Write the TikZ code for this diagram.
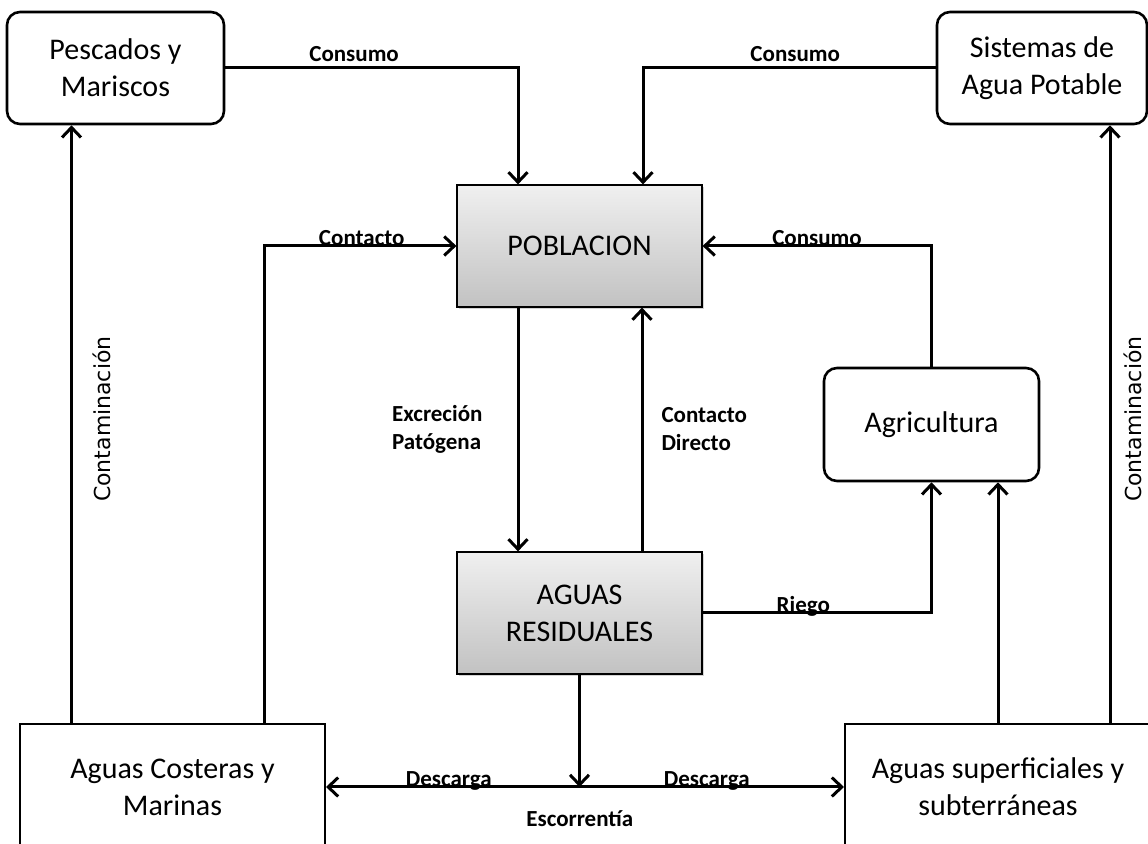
\documentclass[tikz,border=0pt]{standalone}
\usepackage{fontspec}
\setmainfont{Carlito}
\newfontfamily\verdfont{DejaVu Sans}
\usepackage{tikz}
\usetikzlibrary{arrows.meta,shadows}

\begin{document}
\begin{tikzpicture}[x=0.5pt,y=-0.5pt,
    >={Straight Barb[length=5pt,width=9.5pt]},
    box/.style={draw,line width=1.3pt,rounded corners=6.5pt,align=center,inner sep=0pt,
      font=\fontsize{15}{18.5}\selectfont},
    main/.style={draw,line width=0.6pt,top color=gray!12,bottom color=gray!48,inner sep=0pt,
      drop shadow={opacity=0.35,shadow xshift=1.2pt,shadow yshift=-1.2pt},
      align=center,minimum width=122.5pt,minimum height=61pt,font=\fontsize{15}{18.5}\selectfont},
    water/.style={draw,line width=1pt,align=center,inner sep=0pt,minimum width=153pt,
      minimum height=63pt,font=\fontsize{15}{18.5}\selectfont},
    flow/.style={line width=1.5pt,->},
    lbl/.style={font=\fontsize{11.5}{14}\selectfont\bfseries,inner sep=0pt},
    cont/.style={font=\verdfont\fontsize{11}{12}\selectfont,inner sep=0pt}]
    \useasboundingbox (0,0) rectangle (1148,844);
    \clip (0,0) rectangle (1148,844);
    %nodes
    \node[box,minimum width=108.5pt,minimum height=56pt] (pesc) at (115.5,68) {Pescados y\\Mariscos};
    \node[box,minimum width=105pt,minimum height=56pt] (sist) at (1042,68) {Sistemas de\\Agua Potable};
    \node[main] (pob) at (579.5,246) {POBLACION};
    \node[main] (res) at (579.5,613) {AGUAS\\RESIDUALES};
    \node[box,minimum width=107.5pt,minimum height=56.5pt] (agri) at (931.5,424.5) {Agricultura};
    \node[water,minimum width=152.5pt] (cost) at (172.5,787) {Aguas Costeras y\\Marinas};
    \node[water] (sup) at (998,787) {Aguas superficiales y\\subterráneas};
    %edges
    \draw[flow] (pesc.east) -| ([xshift=-30.75pt]pob.north)
      node[lbl,pos=0.22,anchor=base,yshift=3pt]{Consumo};
    \draw[flow] (sist.west) -| ([xshift=31.75pt]pob.north)
      node[lbl,pos=0.24,anchor=base,yshift=3pt]{Consumo};
    \draw[flow] ([xshift=45.75pt]cost.north) |- (pob.west)
      node[lbl,pos=0.754,anchor=base]{Contacto};
    \draw[flow] (agri.north) |- (pob.east)
      node[lbl,pos=0.75,anchor=base]{Consumo};
    \draw[flow] ([xshift=-30.75pt]pob.south) -- ([xshift=-30.75pt]res.north)
      node[lbl,midway,left=17pt,align=left]{Excreción\\Patógena};
    \draw[flow] ([xshift=31.25pt]res.north) -- ([xshift=31.25pt]pob.south)
      node[lbl,midway,right=9pt,align=left]{Contacto\\Directo};
    \draw[flow] (res.east) -| (agri.south)
      node[lbl,pos=0.22,anchor=base]{Riego};
    \draw[flow] (sup.north) -- (sup.north |- agri.south);
    \draw[flow] ([xshift=-50.5pt]cost.north) -- ([xshift=-50.5pt]cost.north |- pesc.south)
      node[cont,midway,xshift=15.25pt,yshift=2.5pt,rotate=90]{Contaminación};
    \draw[flow] ([xshift=56pt]sup.north) -- ([xshift=56pt]sup.north |- sist.south)
      node[cont,midway,xshift=11.5pt,yshift=2.5pt,rotate=90]{Contaminación};
    \draw[flow] (res.south) -- (res.south |- cost.east);
    \draw[flow,<->] (cost.east) -- (sup.west)
      node[lbl,pos=0.237,anchor=base]{Descarga}
      node[lbl,pos=0.735,anchor=base]{Descarga}
      node[lbl,pos=0.49,anchor=base,yshift=-20pt]{Escorrentía};
\end{tikzpicture}
\end{document}
